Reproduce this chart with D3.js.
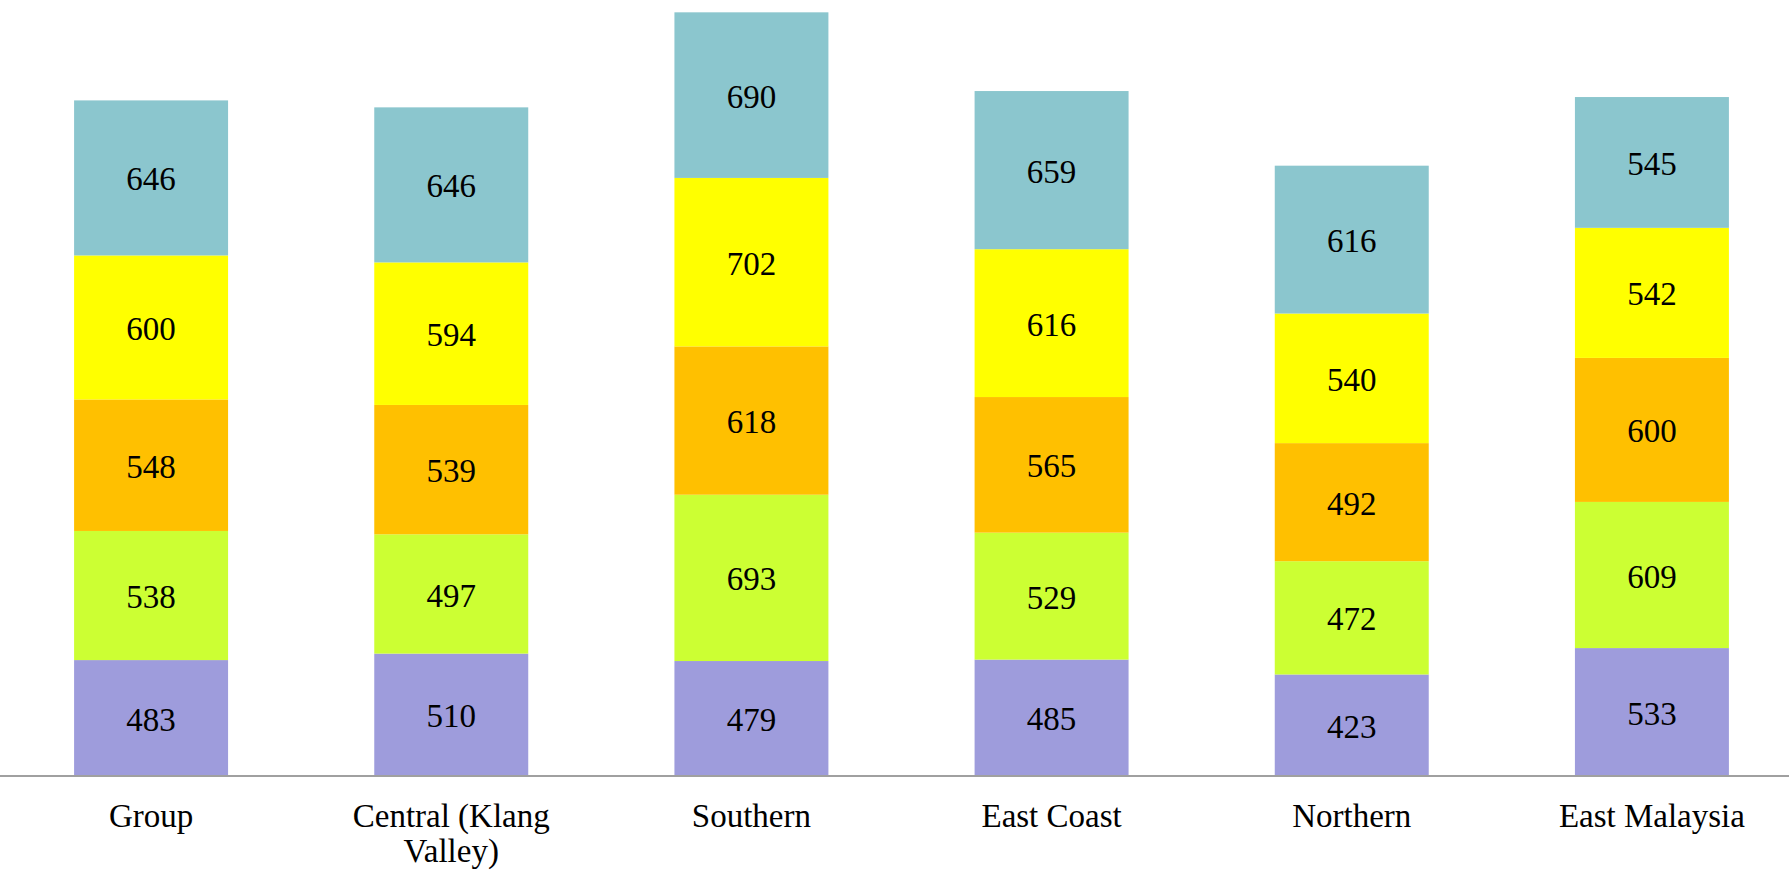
<!DOCTYPE html>
<html>
<head>
<meta charset="utf-8">
<script src="https://cdn.jsdelivr.net/npm/d3@7"></script>
<style>
  body { margin: 0; background: #fff; }
  .valText { font-family: "Liberation Serif", serif; font-size: 33px; fill: #000; }
  .catText { font-family: "Liberation Serif", serif; font-size: 33px; fill: #000; }
</style>
</head>
<body>
<div id="chart"></div>
<script>
var width = 1789;
var height = 870;

// categories along the x axis
var regions = ["Group", "Central (Klang Valley)", "Southern", "East Coast", "Northern", "East Malaysia"];

// stacked series, bottom to top
var seriesPurple = [483, 510, 479, 485, 423, 533];
var seriesGreen  = [538, 497, 693, 529, 472, 609];
var seriesOrange = [548, 539, 618, 565, 492, 600];
var seriesYellow = [600, 594, 702, 616, 540, 542];
var seriesTeal   = [646, 646, 690, 659, 616, 545];

var seriesKeys = ["purple", "green", "orange", "yellow", "teal"];
var seriesColors = ["#9e9cdc", "#ccff33", "#ffc000", "#ffff00", "#8bc6ce"];

var table = regions.map(function(r, i) {
  return {
    region: r,
    purple: seriesPurple[i],
    green: seriesGreen[i],
    orange: seriesOrange[i],
    yellow: seriesYellow[i],
    teal: seriesTeal[i]
  };
});

var svg = d3.select("#chart").append("svg").attr("width", width).attr("height", height);

var xscale = d3.scaleBand().domain(regions).range([1, 1802]).paddingInner(0.487).paddingOuter(0.2435);
var yscale = d3.scaleLinear().domain([0, 3200]).range([776, 8]);

var stacked = d3.stack().keys(seriesKeys)(table);

var layers = svg.selectAll("g.layer").data(stacked).enter()
  .append("g").attr("class", "layer")
  .attr("fill", function(d, i) { return seriesColors[i]; });

layers.selectAll("rect").data(function(d) { return d; }).enter()
  .append("rect")
  .attr("x", function(d) { return xscale(d.data.region); })
  .attr("width", xscale.bandwidth())
  .attr("y", function(d) { return yscale(d[1]); })
  .attr("height", function(d) { return yscale(d[0]) - yscale(d[1]); });

layers.selectAll("text").data(function(d) { return d; }).enter()
  .append("text")
  .attr("class", "valText")
  .attr("text-anchor", "middle")
  .attr("x", function(d) { return xscale(d.data.region) + xscale.bandwidth() / 2; })
  .attr("y", function(d) { return (yscale(d[0]) + yscale(d[1])) / 2; })
  .attr("dy", "0.38em")
  .text(function(d) { return d[1] - d[0]; });

// x axis: line only, labels wrapped under each bar
var xx = d3.axisBottom(xscale).tickSize(0).tickPadding(0);
var xAxis = svg.append("g").attr("class", "xAxis").attr("transform", "translate(0,776)").call(xx);
xAxis.select(".domain").remove();
xAxis.append("line").attr("x1", 0).attr("x2", width).attr("y1", 0).attr("y2", 0)
  .attr("stroke", "#a0a0a0").attr("stroke-width", 2);

xAxis.selectAll(".tick text")
  .attr("class", "catText")
  .attr("font-family", null).attr("font-size", null)
  .attr("fill", "#000")
  .attr("y", 51).attr("dy", 0)
  .call(wrap, 230);

function wrap(texts, w) {
  texts.each(function() {
    var text = d3.select(this);
    var words = text.text().split(/\s+/);
    var y = text.attr("y");
    var line = [];
    var lineNo = 0;
    var tspan = text.text(null).append("tspan").attr("x", 0).attr("y", y);
    words.forEach(function(word) {
      line.push(word);
      tspan.text(line.join(" "));
      if (tspan.node().getComputedTextLength() > w && line.length > 1) {
        line.pop();
        tspan.text(line.join(" "));
        line = [word];
        lineNo++;
        tspan = text.append("tspan").attr("x", 0).attr("y", y).attr("dy", (lineNo * 35) + "px").text(word);
      }
    });
  });
}
</script>
</body>
</html>
